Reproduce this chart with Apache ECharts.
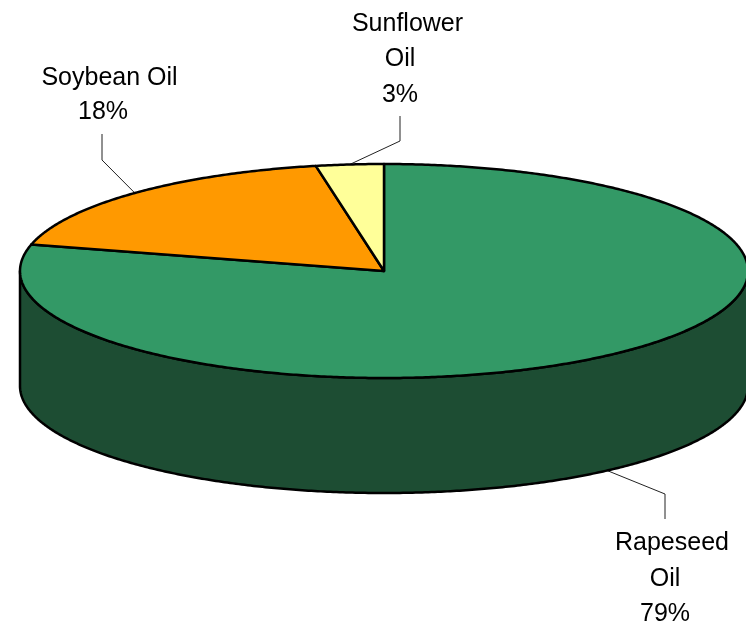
<!DOCTYPE html>
<html>
<head>
<meta charset="utf-8">
<title>Vegetable oil shares</title>
<style>
  html, body { margin: 0; padding: 0; background: #fff; }
  #chart { width: 746px; height: 625px; }
</style>
<script src="https://cdn.jsdelivr.net/npm/echarts@6/dist/echarts.min.js"></script>
</head>
<body>
<div id="chart"></div>
<script>
// Market share of each oil, in percent
const categories = ['Rapeseed Oil', 'Soybean Oil', 'Sunflower Oil'];
const shares = [79, 18, 3];
const labelRows = [['Rapeseed', 'Oil'], ['Soybean Oil'], ['Sunflower', 'Oil']];

// Disc geometry: an ellipse seen in perspective, with a vertical wall under it
const disc = { cx: 384, cy: 271, rx: 364, ry: 107, depth: 115 };
const topColors = ['#339966', '#FF9900', '#FFFF99'];
const wallColors = ['#1D4D33', '#804D00', '#80804D'];

// Label placement per slice: leader elbow and text stop, and row centres
const labelLayout = [
  { onWall: true, elbow: [665, 494], stop: [665, 519], firstX: 672, restX: 665, rowY: [543.5, 579, 614] },
  { onWall: false, elbow: [102, 160], stop: [102, 134], firstX: 109.5, restX: 103, rowY: [78.5, 112.5] },
  { onWall: false, elbow: [400, 141], stop: [400, 116], firstX: 407.5, restX: 400, rowY: [24.5, 59.5, 95.5] }
];

const total = shares.reduce((a, b) => a + b, 0);
const turn = (v) => (v / total) * 360;

// Clockwise degrees from twelve o'clock for the start of each slice
const starts = shares.map((_, i) => shares.slice(0, i).reduce((a, b) => a + turn(b), 0));

function rimPoint(deg, drop) {
  const t = (deg * Math.PI) / 180;
  return [disc.cx + disc.rx * Math.sin(t), disc.cy - disc.ry * Math.cos(t) + (drop || 0)];
}

function arc(from, to, drop) {
  const pts = [];
  const steps = Math.max(2, Math.ceil(Math.abs(to - from) * 2));
  for (let k = 0; k <= steps; k++) pts.push(rimPoint(from + ((to - from) * k) / steps, drop));
  return pts;
}

function renderSlice(params, api) {
  const i = params.dataIndex;
  const a0 = starts[i];
  const a1 = a0 + turn(api.value(0));
  const children = [];

  // The front half of the rim (90 to 270 degrees) shows the wall
  const w0 = Math.max(a0, 90);
  const w1 = Math.min(a1, 270);
  if (w1 > w0) {
    children.push({
      type: 'polygon',
      shape: { points: arc(w0, w1, 0).concat(arc(w1, w0, disc.depth)) },
      style: { fill: wallColors[i], stroke: '#000', lineWidth: 2.5, lineJoin: 'round' }
    });
  }
  children.push({
    type: 'polygon',
    shape: { points: [[disc.cx, disc.cy]].concat(arc(a0, a1, 0)) },
    style: { fill: topColors[i], stroke: '#000', lineWidth: 2.5, lineJoin: 'round' }
  });
  return { type: 'group', children };
}

function renderLabel(params, api) {
  const i = params.dataIndex;
  const layout = labelLayout[i];
  const mid = starts[i] + turn(api.value(0)) / 2;
  const anchor = rimPoint(mid, layout.onWall ? disc.depth : 0);
  const rows = labelRows[i].concat(api.value(0) + '%');
  const children = [{
    type: 'polyline',
    shape: { points: [anchor, layout.elbow, layout.stop] },
    style: { fill: null, stroke: '#222', lineWidth: 1 }
  }];
  rows.forEach((text, r) => {
    children.push({
      type: 'text',
      style: {
        text,
        x: r === 0 ? layout.firstX : layout.restX,
        y: layout.rowY[r],
        align: 'center',
        verticalAlign: 'middle',
        fill: '#000',
        font: '25px "Liberation Sans", Arial, sans-serif'
      }
    });
  });
  return { type: 'group', children };
}

const chart = echarts.init(document.getElementById('chart'), null, { renderer: 'canvas' });
const seriesData = categories.map((name, i) => ({ name, value: [shares[i]] }));

chart.setOption({
  animation: false,
  backgroundColor: '#fff',
  series: [
    { type: 'custom', coordinateSystem: 'none', renderItem: renderLabel, data: seriesData, z: 1, silent: true },
    { type: 'custom', coordinateSystem: 'none', renderItem: renderSlice, data: seriesData, z: 2, silent: true }
  ]
});
</script>
</body>
</html>
